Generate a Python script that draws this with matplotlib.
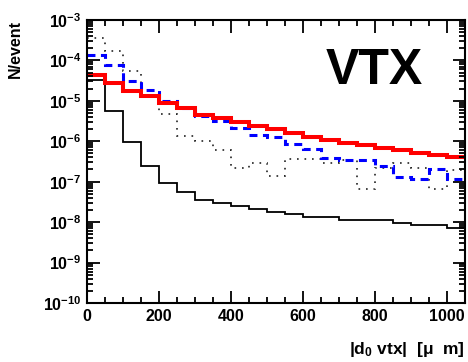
import numpy as np
import matplotlib
matplotlib.use("Agg")
import matplotlib.pyplot as plt
from matplotlib.ticker import MultipleLocator, LogLocator, NullFormatter, FuncFormatter

plt.rcParams['font.family'] = 'Liberation Sans'
plt.rcParams['font.weight'] = 'bold'
plt.rcParams['mathtext.fontset'] = 'custom'
plt.rcParams['mathtext.rm'] = 'Liberation Sans:bold'
plt.rcParams['mathtext.it'] = 'Liberation Sans:bold'
plt.rcParams['mathtext.bf'] = 'Liberation Sans:bold'
plt.rcParams['mathtext.default'] = 'rm'

# bin edges in micrometres (50 um bins, 0..1050)
edges = np.arange(0, 1051, 50)

# solid black histogram
black = [3.2e-5, 5.7e-6, 9.8e-7, 2.5e-7, 9.5e-8, 5.5e-8, 3.6e-8, 3.0e-8, 2.46e-8, 2.1e-8,
         1.78e-8, 1.6e-8, 1.34e-8, 1.34e-8, 1.11e-8, 1.11e-8, 1.11e-8, 9.5e-9, 8.3e-9, 8.3e-9,
         7.1e-9]

# red thick histogram
red = [4.24e-5, 2.72e-5, 1.78e-5, 1.32e-5, 8.85e-6, 6.66e-6, 4.47e-6, 3.66e-6, 3.0e-6, 2.39e-6,
       1.96e-6, 1.56e-6, 1.28e-6, 1.08e-6, 9.1e-7, 8.1e-7, 6.8e-7, 5.9e-7, 5.1e-7, 4.45e-7,
       4.1e-7]

# blue dashed histogram
blue = [1.36e-4, 7.7e-5, 3.1e-5, 1.86e-5, 1.01e-5, 6.8e-6, 4.3e-6, 3.2e-6, 2.1e-6, 1.43e-6,
        1.24e-6, 8.4e-7, 6.4e-7, 3.75e-7, 3.44e-7, 3.44e-7, 2.45e-7, 1.29e-7, 1.17e-7, 2.03e-7,
        1.17e-7]

# dotted histogram
dotted = [3.5e-4, 1.74e-4, 5.5e-5, 1.4e-5, 4.65e-6, 1.37e-6, 1.03e-6, 6.1e-7, 2.15e-7, 2.86e-7,
          1.39e-7, 3.6e-7, 3.6e-7, 2.86e-7, 3.5e-7, 6.6e-8, 2.15e-7, 2.86e-7, 2.15e-7, 6.6e-8,
          1.95e-7]

fig = plt.figure(figsize=(4.68, 3.62), dpi=100)
ax = fig.add_axes([0.186, 0.163, 0.808, 0.782])

ax.stairs(dotted, edges, baseline=None, color='#222222', lw=1.2, linestyle=(0, (1, 3.5)))
ax.stairs(black, edges, baseline=None, color='black', lw=1.3)
ax.stairs(blue, edges, baseline=None, color='#0000ff', lw=2.2, linestyle=(0, (2.6, 1.8)))
ax.stairs(red, edges, baseline=None, color='#ff0000', lw=2.9)

ax.set_yscale('log')
ax.set_xlim(0, 1050)
ax.set_ylim(1e-10, 1e-3)

ax.xaxis.set_major_locator(MultipleLocator(200))
ax.xaxis.set_minor_locator(MultipleLocator(50))
ax.yaxis.set_major_locator(LogLocator(base=10, numticks=20))
ax.yaxis.set_minor_locator(LogLocator(base=10, subs=np.arange(2, 10), numticks=20))
ax.yaxis.set_minor_formatter(NullFormatter())
ax.yaxis.set_major_formatter(FuncFormatter(lambda v, p: r'$10^{%d}$' % int(round(np.log10(v)))))

ax.tick_params(which='both', direction='in', top=True, right=True, width=1.3, labelsize=11.5)
ax.tick_params(which='major', length=9, pad=4)
ax.tick_params(which='minor', length=4.5)
for s in ax.spines.values():
    s.set_linewidth(1.5)

ax.set_ylabel('N/event', loc='top', fontsize=11.5, fontweight='bold')
ax.yaxis.set_label_coords(-0.17, 1.0)
ax.set_xlabel(r'|d$_0$ vtx|  [$\mu$  m]', loc='right', fontsize=12.5, fontweight='bold', labelpad=12)

ax.text(0.759, 0.82, 'VTX', transform=ax.transAxes, fontsize=36, fontweight='bold',
        ha='center', va='center')

fig.savefig('out.png', dpi=100)
